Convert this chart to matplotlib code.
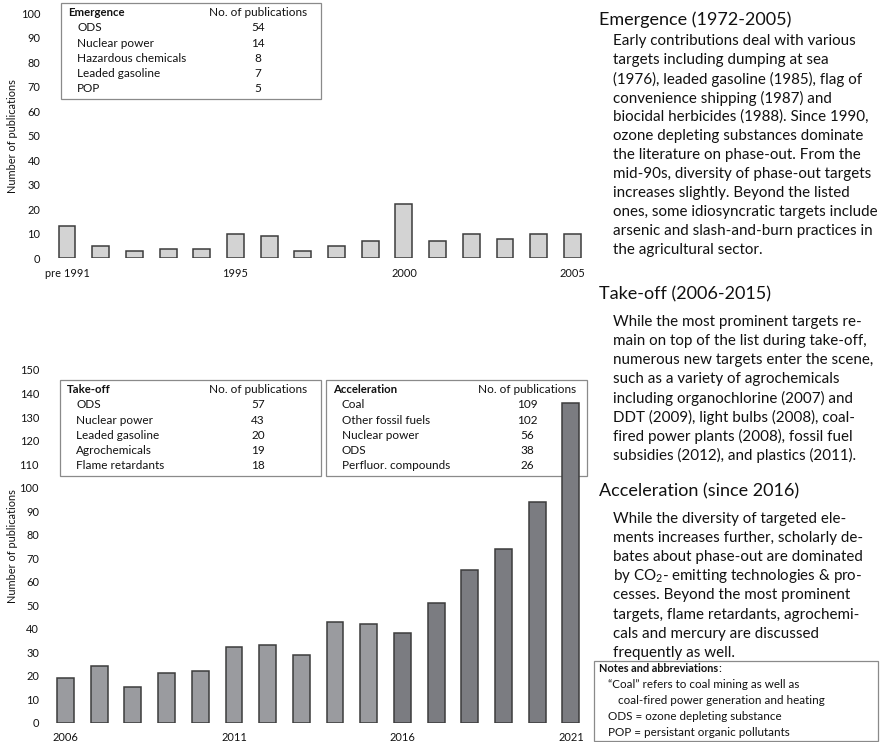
import matplotlib
matplotlib.use('Agg')
import matplotlib.pyplot as plt
from matplotlib.patches import Rectangle

W_PX, H_PX = 880, 742

# bar chart data
early_labels = ['pre 1991'] + [str(y) for y in range(1991, 2006)]
early_counts = [13, 5, 3, 4, 4, 10, 9, 3, 5, 7, 22, 7, 10, 8, 10, 10]

late_years = [str(y) for y in range(2006, 2022)]
late_counts = [19, 24, 15, 21, 22, 32, 33, 29, 43, 42, 38, 51, 65, 74, 94, 136]
late_phase = ['take-off'] * 10 + ['acceleration'] * 6

# top targets per phase
emergence_targets = ['ODS', 'Nuclear power', 'Hazardous chemicals', 'Leaded gasoline', 'POP']
emergence_pubs = [54, 14, 8, 7, 5]
takeoff_targets = ['ODS', 'Nuclear power', 'Leaded gasoline', 'Agrochemicals', 'Flame retardants']
takeoff_pubs = [57, 43, 20, 19, 18]
accel_targets = ['Coal', 'Other fossil fuels', 'Nuclear power', 'ODS', 'Perfluor. compounds']
accel_pubs = [109, 102, 56, 38, 26]

emergence_text = [
    'Early contributions deal with various',
    'targets including dumping at sea',
    '(1976), leaded gasoline (1985), flag of',
    'convenience shipping (1987) and',
    'biocidal herbicides (1988). Since 1990,',
    'ozone depleting substances dominate',
    'the literature on phase-out. From the',
    'mid-90s, diversity of phase-out targets',
    'increases slightly. Beyond the listed',
    'ones, some idiosyncratic targets include',
    'arsenic and slash-and-burn practices in',
    'the agricultural sector.',
]
takeoff_text = [
    'While the most prominent targets re-',
    'main on top of the list during take-off,',
    'numerous new targets enter the scene,',
    'such as a variety of agrochemicals',
    'including organochlorine (2007) and',
    'DDT (2009), light bulbs (2008), coal-',
    'fired power plants (2008), fossil fuel',
    'subsidies (2012), and plastics (2011).',
]
accel_text = [
    'While the diversity of targeted ele-',
    'ments increases further, scholarly de-',
    'bates about phase-out are dominated',
    'by CO$_2$- emitting technologies & pro-',
    'cesses. Beyond the most prominent',
    'targets, flame retardants, agrochemi-',
    'cals and mercury are discussed',
    'frequently as well.',
]
notes_lines = [
    '\u201cCoal\u201d refers to coal mining as well as',
    'coal-fired power generation and heating',
    'ODS = ozone depleting substance',
    'POP = persistant organic pollutants',
]

plt.rcParams['font.family'] = ['Lato', 'DejaVu Sans']
plt.rcParams['mathtext.fontset'] = 'custom'
plt.rcParams['mathtext.rm'] = 'Lato'
plt.rcParams['mathtext.it'] = 'Lato:italic'
plt.rcParams['mathtext.bf'] = 'Lato:bold'

TXT = '#111111'
EDGE = '#3c3c3c'
TAB_FS = 8.5


def fx(x):
    return x / W_PX


def fy(y):
    return 1 - y / H_PX


def axes_px(fig, left, top, width, bottom):
    return fig.add_axes([fx(left), fy(bottom), width / W_PX, (bottom - top) / H_PX])


def style_axis(ax, ymax, step):
    for s in ax.spines.values():
        s.set_visible(False)
    ax.set_ylim(0, ymax)
    ax.set_yticks(range(0, ymax + 1, step))
    ax.tick_params(length=0, labelsize=7.9, colors=TXT, pad=7)
    ax.tick_params(axis='x', pad=7)


def table_box(fig, x0, y0, x1, y1, title, targets, pubs, num_x, head_x):
    fig.patches.append(Rectangle((fx(x0), fy(y1)), (x1 - x0) / W_PX, (y1 - y0) / H_PX,
                                 transform=fig.transFigure, fill=False,
                                 edgecolor='#8a8a8a', linewidth=0.9, zorder=0))
    ty = y0 + 9.5
    fig.text(fx(x0 + 7), fy(ty), title, fontsize=TAB_FS - 0.3, fontweight='bold', color=TXT, va='center')
    fig.text(fx(head_x), fy(ty), 'No. of publications', fontsize=TAB_FS, color=TXT, va='center', ha='center')
    for i, (t, n) in enumerate(zip(targets, pubs)):
        yy = ty + 15.3 * (i + 1)
        fig.text(fx(x0 + 16), fy(yy), t, fontsize=TAB_FS, color=TXT, va='center')
        fig.text(fx(num_x), fy(yy), str(n), fontsize=TAB_FS, color=TXT, va='center', ha='center')


fig = plt.figure(figsize=(W_PX / 100, H_PX / 100), dpi=100)

# top chart: emergence
ax1 = axes_px(fig, 50.2, 13.3, 539, 258.3)
x1 = range(len(early_counts))
ax1.bar(x1, early_counts, width=0.5, color='#d3d3d3', edgecolor=EDGE, linewidth=1.1, zorder=2)
ax1.set_xlim(-0.5, len(early_counts) - 0.5)
style_axis(ax1, 100, 10)
ax1.set_xticks([0, 5, 10, 15])
ax1.set_xticklabels([early_labels[i] for i in [0, 5, 10, 15]])

# bottom chart: take-off and acceleration
ax2 = axes_px(fig, 48.7, 370, 539, 722.7)
x2 = range(len(late_counts))
colors = ['#9a9b9f' if p == 'take-off' else '#7b7c81' for p in late_phase]
ax2.bar(x2, late_counts, width=0.5, color=colors, edgecolor=EDGE, linewidth=1.1, zorder=3)
ax2.set_xlim(-0.5, len(late_counts) - 0.5)
style_axis(ax2, 150, 10)
ax2.set_xticks([0, 5, 10, 15])
ax2.set_xticklabels([late_years[i] for i in [0, 5, 10, 15]])
ax2.set_zorder(2)
ax2.patch.set_alpha(0)

fig.text(fx(12.5), fy(136), 'Number of publications', rotation=90, fontsize=7.9,
         color=TXT, va='center', ha='center')
fig.text(fx(12.5), fy(546), 'Number of publications', rotation=90, fontsize=7.9,
         color=TXT, va='center', ha='center')

# tables
table_box(fig, 61, 3, 321, 99, 'Emergence', emergence_targets, emergence_pubs, 258, 258)
table_box(fig, 60, 380, 321, 476, 'Take-off', takeoff_targets, takeoff_pubs, 258, 258)
table_box(fig, 326, 380, 587, 476, 'Acceleration', accel_targets, accel_pubs, 527, 527)

# right hand text column
HEAD = 13
BODY = 10.9
fig.text(fx(599), fy(20), 'Emergence (1972-2005)', fontsize=HEAD, color=TXT, va='center')
for i, line in enumerate(emergence_text):
    fig.text(fx(613), fy(41 + 19 * i), line, fontsize=BODY, color=TXT, va='center')
fig.text(fx(599), fy(294), 'Take-off (2006-2015)', fontsize=HEAD, color=TXT, va='center')
for i, line in enumerate(takeoff_text):
    fig.text(fx(613), fy(322 + 19 * i), line, fontsize=BODY, color=TXT, va='center')
fig.text(fx(599), fy(491), 'Acceleration (since 2016)', fontsize=HEAD, color=TXT, va='center')
for i, line in enumerate(accel_text):
    fig.text(fx(613), fy(519 + 19.1 * i), line, fontsize=BODY, color=TXT, va='center')

# notes box
fig.patches.append(Rectangle((fx(594), fy(741)), (878 - 594) / W_PX, (741 - 661) / H_PX,
                             transform=fig.transFigure, fill=False,
                             edgecolor='#8a8a8a', linewidth=0.9))
nt = fig.text(fx(599), fy(669), 'Notes and abbreviations', fontsize=7.9, fontweight='bold',
              color=TXT, va='center')
fig.canvas.draw()
bb = nt.get_window_extent()
fig.text(bb.x1 / W_PX, fy(669), ':', fontsize=8.4, color=TXT, va='center')
note_x = [608, 618, 608, 608]
for i, (line, xx) in enumerate(zip(notes_lines, note_x)):
    fig.text(fx(xx), fy(685 + 16 * i), line, fontsize=8.4, color=TXT, va='center')

fig.savefig('out.png', dpi=100)
